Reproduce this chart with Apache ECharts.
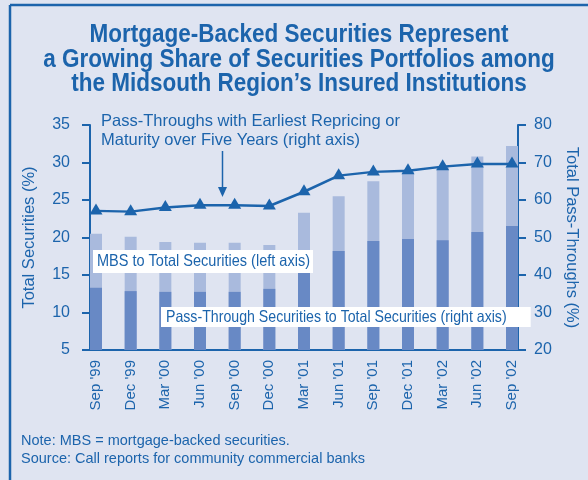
<!DOCTYPE html>
<html><head><meta charset="utf-8">
<script src="https://cdn.jsdelivr.net/npm/echarts@6/dist/echarts.min.js"></script>
<style>html,body{margin:0;padding:0;background:#dfe4f1;}#c{width:588px;height:480px;}</style>
</head><body><div id="c"></div>
<script>
const categories = ["Sep '99","Dec '99","Mar '00","Jun '00","Sep '00","Dec '00","Mar '01","Jun '01","Sep '01","Dec '01","Mar '02","Jun '02","Sep '02"];
const mbsToTotal = [20.5,20.1,19.4,19.3,19.3,19.0,23.3,25.5,27.5,28.8,29.5,30.8,32.2];
const passThroughToTotal = [36.6,35.7,35.5,35.5,35.5,36.3,40.6,46.4,49.1,49.6,49.3,51.5,53.1];
const passThroughOver5 = [57.1,56.9,58.0,58.6,58.6,58.4,62.2,66.5,67.5,67.8,68.9,69.6,69.6];
const leftTicks = {min:5,max:35,interval:5};
const rightTicks = {min:20,max:80,interval:10};

const BLUE = '#1c64ac';
const FONT = "'Liberation Sans',Arial,sans-serif";
const chart = echarts.init(document.getElementById('c'));
chart.setOption({
  backgroundColor:'#dfe4f1',
  animation:false,
  textStyle:{fontFamily:FONT,color:BLUE},
  grid:[{left:96,right:76,top:125,bottom:130},{left:90,right:70,top:125,bottom:130}],
  xAxis:[
    {type:'category',gridIndex:0,data:categories,boundaryGap:false,
     axisLine:{show:false},axisTick:{show:false},splitLine:{show:false},
     axisLabel:{rotate:90,margin:10,fontSize:15,color:BLUE,fontFamily:FONT,interval:0}},
    {type:'value',gridIndex:1,min:0,max:1,axisLine:{show:true,lineStyle:{color:BLUE,width:2}},
     axisTick:{show:false},axisLabel:{show:false},splitLine:{show:false}}
  ],
  yAxis:[
    {type:'value',gridIndex:0,position:'left',offset:6,min:leftTicks.min,max:leftTicks.max,interval:leftTicks.interval,
     name:'Total Securities (%)',nameLocation:'middle',nameGap:52,nameRotate:90,
     nameTextStyle:{fontSize:16.5,color:BLUE,fontFamily:FONT},
     axisLine:{show:true,lineStyle:{color:BLUE,width:2}},axisTick:{show:true,length:8,lineStyle:{color:BLUE,width:2}},
     axisLabel:{margin:20,fontSize:16,color:BLUE,fontFamily:FONT},splitLine:{show:false}},
    {type:'value',gridIndex:0,position:'right',offset:6,min:rightTicks.min,max:rightTicks.max,interval:rightTicks.interval,
     name:'Total Pass-Throughs (%)',nameLocation:'middle',nameGap:43,nameRotate:-90,
     nameTextStyle:{fontSize:16.5,color:BLUE,fontFamily:FONT},
     axisLine:{show:true,lineStyle:{color:BLUE,width:2}},axisTick:{show:true,length:8,lineStyle:{color:BLUE,width:2}},
     axisLabel:{margin:16,fontSize:16,color:BLUE,fontFamily:FONT},splitLine:{show:false}},
    {type:'value',gridIndex:1,min:0,max:1,show:false}
  ],
  series:[
    {type:'bar',name:'MBS to Total Securities',xAxisIndex:0,yAxisIndex:0,data:mbsToTotal,barWidth:12,barGap:'-100%',
     itemStyle:{color:'#a9badd'}},
    {type:'bar',name:'Pass-Through Securities to Total Securities',xAxisIndex:0,yAxisIndex:1,data:passThroughToTotal,barWidth:12,barGap:'-100%',
     itemStyle:{color:'#6889c5'}},
    {type:'line',name:'Pass-Throughs with Earliest Repricing',xAxisIndex:0,yAxisIndex:1,data:passThroughOver5,
     symbol:'triangle',symbolSize:[13,11],symbolOffset:[0,-2],lineStyle:{color:BLUE,width:2.5},itemStyle:{color:BLUE},z:5}
  ],
  graphic:[
    {type:'text',x:299,y:60,z:100,scaleX:0.9,style:{text:'Mortgage-Backed Securities Represent\na Growing Share of Securities Portfolios among\nthe Midsouth Region\u2019s Insured Institutions',
      font:"bold 25px "+FONT,fill:BLUE,align:'center',verticalAlign:'middle',lineHeight:24.5}},
    {type:'text',x:101,y:112,z:100,style:{text:'Pass-Throughs with Earliest Repricing or\nMaturity over Five Years (right axis)',
      font:"16.5px "+FONT,fill:BLUE,lineHeight:19}},
    {type:'line',z:100,shape:{x1:222.5,y1:151,x2:222.5,y2:192},style:{stroke:BLUE,lineWidth:1.5}},
    {type:'polygon',z:100,shape:{points:[[218,187],[227,187],[222.5,197]]},style:{fill:BLUE}},
    {type:'text',x:93,y:250,z:100,scaleX:0.88,style:{text:'MBS to Total Securities (left axis)',font:"16.5px "+FONT,fill:BLUE,
      backgroundColor:'#ffffff',padding:[3,3.4,3,4.5]}},
    {type:'text',x:161,y:307,z:100,scaleX:0.858,style:{text:'Pass-Through Securities to Total Securities (right axis)',font:"16.5px "+FONT,fill:BLUE,
      backgroundColor:'#ffffff',padding:[2,28,1,5.8]}},
    {type:'text',x:21,y:432,z:100,style:{text:'Note: MBS = mortgage-backed securities.\nSource: Call reports for community commercial banks',
      font:"14.5px "+FONT,fill:BLUE,lineHeight:18}},
    {type:'line',z:100,shape:{x1:10,y1:5,x2:588,y2:5},style:{stroke:BLUE,lineWidth:2.5}},
    {type:'line',z:100,shape:{x1:10,y1:5,x2:10,y2:480},style:{stroke:BLUE,lineWidth:2.5}}
  ]
});
</script></body></html>
